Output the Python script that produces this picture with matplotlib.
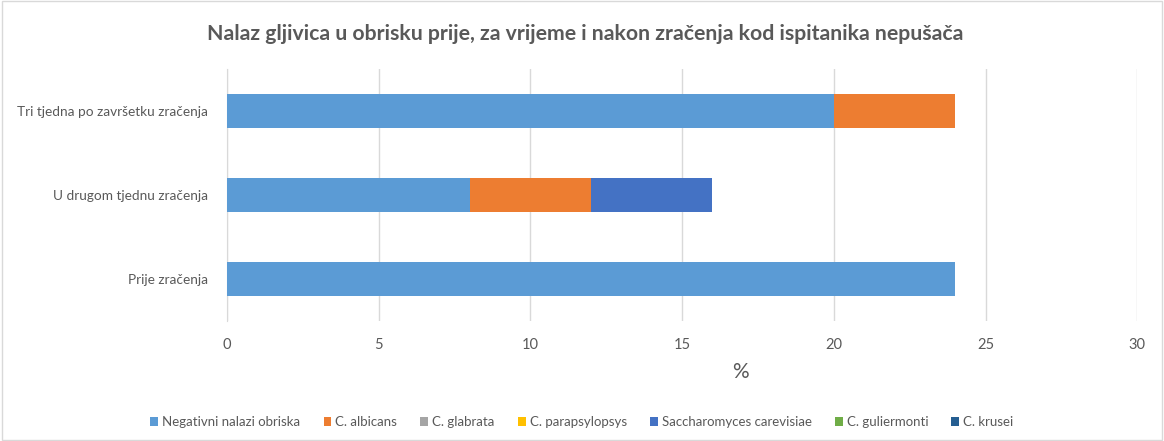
import matplotlib
matplotlib.use("Agg")
import matplotlib.pyplot as plt
from matplotlib.patches import Rectangle
import numpy as np

categories = ["Prije zračenja", "U drugom tjednu zračenja", "Tri tjedna po završetku zračenja"]
series_names = ["Negativni nalazi obriska", "C. albicans", "C. glabrata", "C. parapsylopsys",
                "Saccharomyces carevisiae", "C. guliermonti", "C. krusei"]
negativni = [24, 8, 20]
albicans = [0, 4, 4]
glabrata = [0, 0, 0]
parapsylopsys = [0, 0, 0]
saccharomyces = [0, 4, 0]
guliermonti = [0, 0, 0]
krusei = [0, 0, 0]
series_values = [negativni, albicans, glabrata, parapsylopsys, saccharomyces, guliermonti, krusei]
colors = ["#5B9BD5", "#ED7D31", "#A5A5A5", "#FFC000", "#4472C4", "#70AD47", "#255E91"]
xticks = [0, 5, 10, 15, 20, 25, 30]

plt.rcParams['font.family'] = ['Lato', 'DejaVu Sans']
txt = "#595959"

fig = plt.figure(figsize=(11.64, 4.41), dpi=100)
ax = fig.add_axes([0.195, 0.272, 0.782, 0.572])

y = np.arange(len(categories))
left = np.zeros(len(categories))
for name, vals, c in zip(series_names, series_values, colors):
    vals = np.array(vals, dtype=float)
    ax.barh(y, vals, left=left, height=0.4, color=c, label=name, zorder=3)
    left += vals

ax.set_xlim(0, 30)
ax.set_ylim(-0.5, 2.5)
ax.set_xticks(xticks)
ax.set_xticklabels([str(t) for t in xticks], color=txt, fontsize=10.5)
ax.set_yticks(y)
ax.set_yticklabels(categories, color=txt, fontsize=9.8)
ax.tick_params(axis='x', length=0, pad=12)
ax.tick_params(axis='y', length=0, pad=13.5)
ax.grid(axis='x', color="#D9D9D9", linewidth=1, zorder=0)
for s in ["top", "right", "bottom"]:
    ax.spines[s].set_visible(False)
ax.spines["left"].set_color("#D9D9D9")
fig.text(740 / 1164, 1 - 372 / 441, "%", fontsize=15, color=txt, ha='center', va='center')

fig.suptitle("Nalaz gljivica u obrisku prije, za vrijeme i nakon zračenja kod ispitanika nepušača",
             x=0.503, y=0.945, fontsize=15.3, fontweight='bold', color=txt)

handles, labels = ax.get_legend_handles_labels()
leg = fig.legend(handles, labels, loc='center', bbox_to_anchor=(0.5, 0.043), ncol=7,
                 frameon=False, fontsize=9.5, handlelength=0.6, handleheight=0.6,
                 handletextpad=0.3, columnspacing=1.75)
for t in leg.get_texts():
    t.set_color(txt)

fig.patches.append(Rectangle((0.002, 0.003), 0.996, 0.994, transform=fig.transFigure,
                             fill=False, edgecolor="#D9D9D9", linewidth=1))

fig.savefig("out.png", dpi=100)
